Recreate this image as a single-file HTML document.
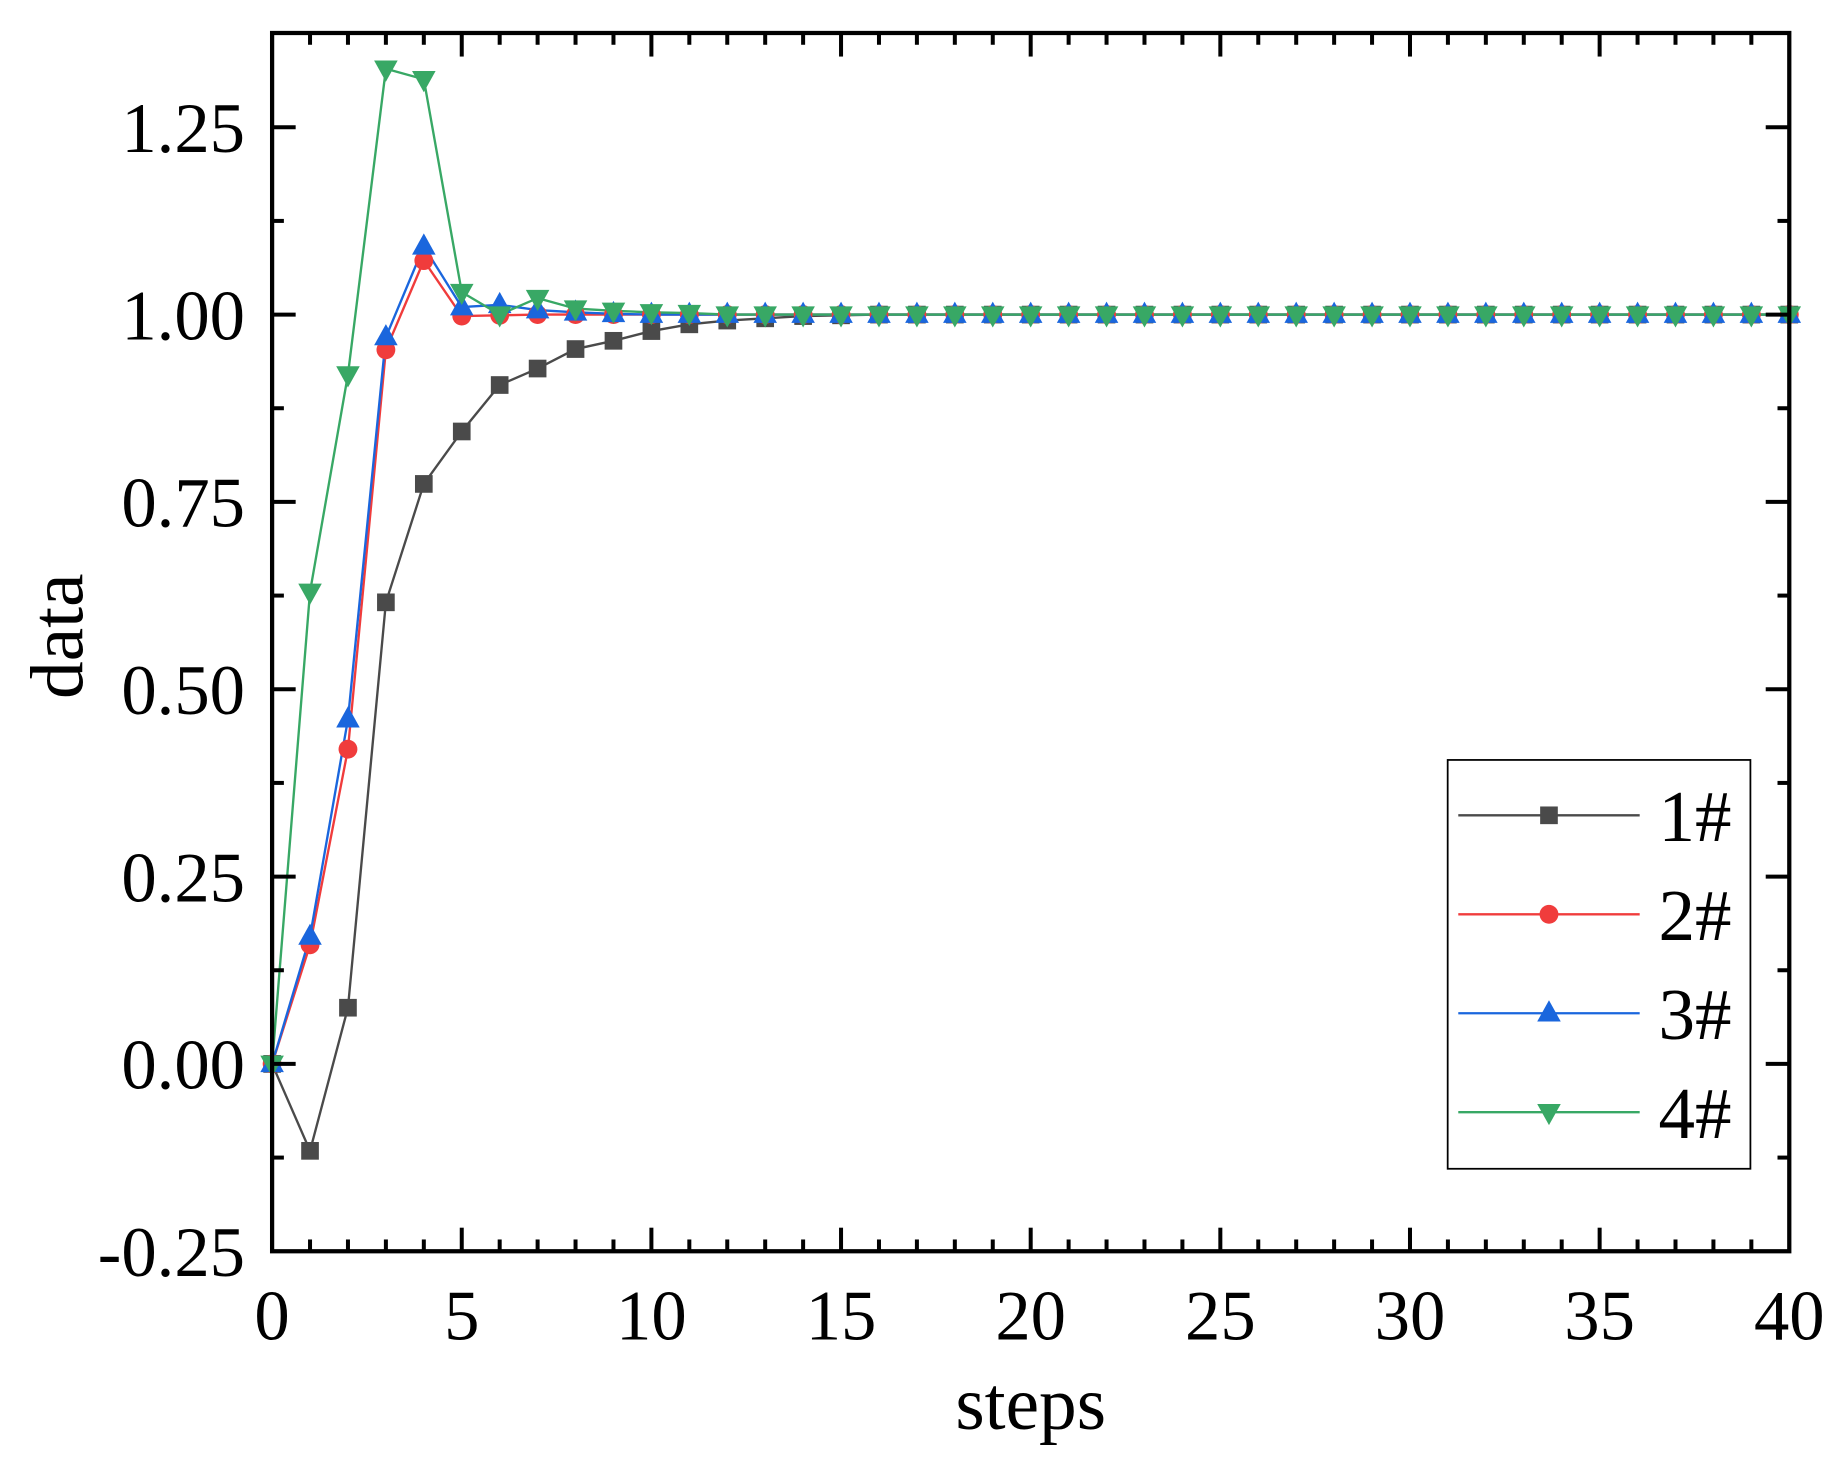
<!DOCTYPE html>
<html><head><meta charset="utf-8"><style>html,body{margin:0;padding:0;background:#fff}svg{display:block}</style></head>
<body>
<svg id="s" width="1847" height="1481" viewBox="0 0 1568 1257" preserveAspectRatio="none" xmlns="http://www.w3.org/2000/svg" font-family="Liberation Serif, serif">
<g id="g"></g>
</svg>
<script>
const NS="http://www.w3.org/2000/svg",g=document.getElementById('g');
function el(t,a,txt){const e=document.createElementNS(NS,t);for(const k in a)e.setAttribute(k,a[k]);if(txt!==undefined)e.textContent=txt;g.appendChild(e);return e;}
const L=231,R=1519,T=28,B=1062;
const X=v=>L+v*(R-L)/40, Y=v=>903-v*636;
function ext(a,n){while(a.length<41)a.push(1);return a;}
const s1=ext([0,-0.116,0.075,0.616,0.774,0.844,0.906,0.928,0.954,0.965,0.978,0.987,0.992,0.995,0.998,0.999]);
const s2=ext([0,0.159,0.42,0.953,1.072,0.998,0.999,1.0,1.0]);
const s3=ext([0,0.17,0.46,0.97,1.091,1.01,1.013,1.006,1.003,1.001]);
const s4=ext([0,0.63,0.92,1.328,1.314,1.03,1.0,1.022,1.008,1.005,1.003,1.002]);
const ser=[[s1,'#4a4a4a','sq'],[s2,'#f03c3c','ci'],[s3,'#1a66dd','up'],[s4,'#38a865','dn']];
function marker(x,y,t,c){
 if(t=='sq')el('rect',{x:x-7.5,y:y-7.5,width:15,height:15,fill:c});
 else if(t=='ci')el('circle',{cx:x,cy:y,r:8,fill:c});
 else if(t=='up')el('polygon',{points:`${x},${y-11} ${x-10},${y+7} ${x+10},${y+7}`,fill:c});
 else el('polygon',{points:`${x},${y+11} ${x-10},${y-7} ${x+10},${y-7}`,fill:c});
}
for(const [d,c,t] of ser){
 el('polyline',{points:d.map((v,i)=>X(i)+','+Y(v)).join(' '),fill:'none',stroke:c,'stroke-width':2});
}
for(const [d,c,t] of ser){d.forEach((v,i)=>marker(X(i),Y(v),t,c));}
el('rect',{x:L,y:T,width:R-L,height:B-T,fill:'none',stroke:'#000','stroke-width':3.6});
for(let i=1;i<40;i++){const x=X(i),len=i%5==0?20:10;
 el('line',{x1:x,y1:B,x2:x,y2:B-len,stroke:'#000','stroke-width':3.4});
 el('line',{x1:x,y1:T,x2:x,y2:T+len,stroke:'#000','stroke-width':3.4});}
for(let k=-2;k<=10;k++){const v=k*0.125,y=Y(v);if(y>=B-1||y<=T)continue;const len=k%2==0?20:10;
 el('line',{x1:L,y1:y,x2:L+len,y2:y,stroke:'#000','stroke-width':3.4});
 el('line',{x1:R,y1:y,x2:R-len,y2:y,stroke:'#000','stroke-width':3.4});}
for(let i=0;i<=40;i+=5)el('text',{x:X(i),y:1137,'font-size':60,'text-anchor':'middle'},String(i));
['-0.25','0.00','0.25','0.50','0.75','1.00','1.25'].forEach(s=>el('text',{x:208,y:Y(parseFloat(s))+21,'font-size':60,'text-anchor':'end'},s));
el('text',{x:875,y:1213,'font-size':64,'text-anchor':'middle'},'steps');
el('text',{x:0,y:0,'font-size':64,'text-anchor':'middle',transform:'translate(70,540) rotate(-90)'},'data');
el('rect',{x:1229,y:645,width:257,height:347,fill:'#fff',stroke:'#000','stroke-width':1.5});
ser.forEach(([d,c,t],i)=>{const y=692+i*84;
 el('line',{x1:1238,y1:y,x2:1392,y2:y,stroke:c,'stroke-width':2});
 marker(1315,y,t,c);
 el('text',{x:1408,y:y+22,'font-size':62},(i+1)+'#');});
</script>
</body></html>
